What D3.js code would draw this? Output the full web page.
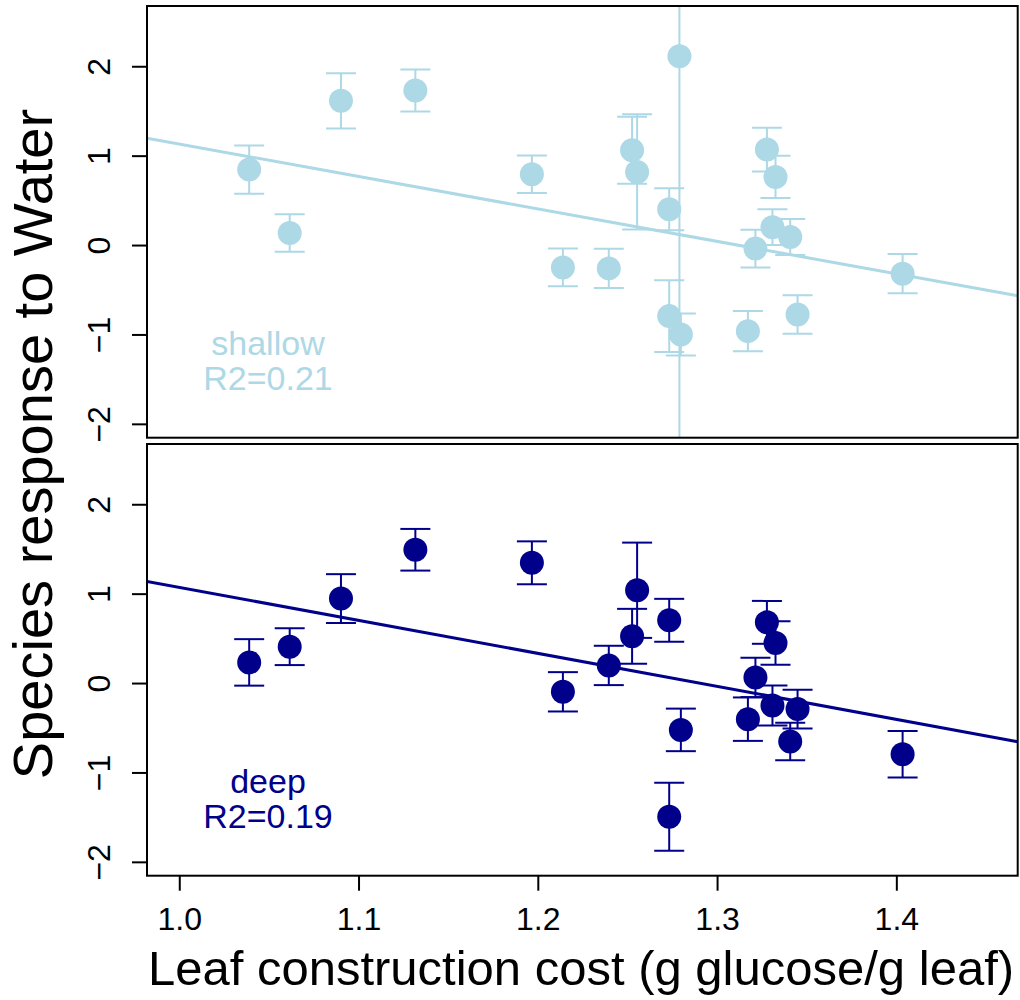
<!DOCTYPE html>
<html>
<head>
<meta charset="utf-8">
<script src="https://cdn.jsdelivr.net/npm/d3@7"></script>
<style>
    body { margin: 0; background: #fff; }
    svg { font-family: "Liberation Sans", Arial, sans-serif; }
</style>
</head>
<body>
<svg width="1020" height="1000"></svg>
<script>
// species means and standard errors
var shallowX  = [1.039, 1.0616, 1.0902, 1.1317, 1.1967, 1.214, 1.2396, 1.2526, 1.2554, 1.2733, 1.2733,
                 1.279, 1.2798, 1.3172, 1.3214, 1.3278, 1.3309, 1.3326, 1.3408, 1.3449, 1.4035];
var shallowY  = [0.844, 0.134, 1.613, 1.729, 0.792, -0.25, -0.261, 1.06, 0.818, 0.40, -0.795,
                 2.113, -1.0, -0.963, -0.04, 1.068, 0.20, 0.762, 0.09, -0.776, -0.32];
var shallowSE = [0.27, 0.21, 0.31, 0.235, 0.21, 0.21, 0.22, 0.375, 0.645, 0.235, 0.40,
                 6.0, 0.235, 0.224, 0.21, 0.245, 0.20, 0.237, 0.20, 0.215, 0.22];

var deepX  = [1.039, 1.0616, 1.0902, 1.1317, 1.1967, 1.214, 1.2396, 1.2526, 1.2554, 1.2733, 1.2733,
              1.2798, 1.3172, 1.3214, 1.3278, 1.3309, 1.3326, 1.3408, 1.3449, 1.4035];
var deepY  = [0.231, 0.407, 0.945, 1.491, 1.345, -0.098, 0.197, 0.523, 1.038, 0.702, -1.496,
              -0.524, -0.404, 0.063, 0.679, -0.251, 0.448, -0.654, -0.291, -0.796];
var deepSE = [0.26, 0.206, 0.273, 0.233, 0.24, 0.22, 0.22, 0.307, 0.533, 0.24, 0.38,
              0.238, 0.243, 0.22, 0.24, 0.224, 0.243, 0.21, 0.217, 0.26];

// regression lines: [intercept, slope]
var shallowFit = [4.76, -3.63];
var deepFit    = [4.76, -3.69];

var xTicks = [1.0, 1.1, 1.2, 1.3, 1.4];
var yTicks = [-2, -1, 0, 1, 2];

var svg = d3.select("svg");
var left = 147, right = 1017.7;

var x = d3.scaleLinear().domain([0.982, 1.4677]).range([left, right]);

function panel(id, top, bottom, xs, ys, se, fit, color, label, r2) {
    var y = d3.scaleLinear().domain([-2.155, 2.674]).range([bottom, top]);
    var g = svg.append("g").attr("class", "panel");

    svg.append("clipPath").attr("id", id)
      .append("rect")
        .attr("x", left).attr("y", top)
        .attr("width", right - left).attr("height", bottom - top);

    var plot = g.append("g").attr("clip-path", "url(#" + id + ")");

    var pts = xs.map(function(d, i) { return {x: d, y: ys[i], se: se[i]}; });

    // fitted line across the whole panel (abline)
    plot.append("line")
        .attr("x1", x(0.982)).attr("y1", y(fit[0] + fit[1] * 0.982))
        .attr("x2", x(1.4677)).attr("y2", y(fit[0] + fit[1] * 1.4677))
        .attr("stroke", color).attr("stroke-width", 3);

    var bar = plot.selectAll(".err")
        .data(pts)
      .enter().append("g")
        .attr("class", "err")
        .attr("stroke", color)
        .attr("stroke-width", 2);

    bar.append("line")
        .attr("x1", function(d) { return x(d.x); })
        .attr("x2", function(d) { return x(d.x); })
        .attr("y1", function(d) { return y(d.y + d.se); })
        .attr("y2", function(d) { return y(d.y - d.se); });

    bar.append("line")
        .attr("x1", function(d) { return x(d.x) - 15; })
        .attr("x2", function(d) { return x(d.x) + 15; })
        .attr("y1", function(d) { return y(d.y + d.se); })
        .attr("y2", function(d) { return y(d.y + d.se); });

    bar.append("line")
        .attr("x1", function(d) { return x(d.x) - 15; })
        .attr("x2", function(d) { return x(d.x) + 15; })
        .attr("y1", function(d) { return y(d.y - d.se); })
        .attr("y2", function(d) { return y(d.y - d.se); });

    plot.selectAll("circle")
        .data(pts)
      .enter().append("circle")
        .attr("cx", function(d) { return x(d.x); })
        .attr("cy", function(d) { return y(d.y); })
        .attr("r", 12)
        .attr("fill", color);

    // y axis, labels parallel to the axis like R's default
    var ax = g.append("g")
        .attr("transform", "translate(" + left + ",0)")
        .call(d3.axisLeft(y).tickValues(yTicks).tickSize(15).tickFormat(d3.format("d")));
    ax.select(".domain").remove();
    ax.selectAll("line").attr("stroke", "#000").attr("stroke-width", 2);
    ax.selectAll("text")
        .attr("x", null).attr("dy", null)
        .attr("transform", "translate(-37,0) rotate(-90)")
        .attr("text-anchor", "middle")
        .attr("fill", "#000")
        .style("font-size", "32px")
        .style("font-family", null)
        .text(function(d) { return d < 0 ? "\u2212" + Math.abs(d) : d; });

    g.append("text")
        .attr("x", 268).attr("y", bottom - 83)
        .attr("text-anchor", "middle")
        .attr("fill", color)
        .style("font-size", "34px")
        .text(label);
    g.append("text")
        .attr("x", 268).attr("y", bottom - 48)
        .attr("text-anchor", "middle")
        .attr("fill", color)
        .style("font-size", "34px")
        .text(r2);

    g.append("rect")
        .attr("x", left).attr("y", top)
        .attr("width", right - left).attr("height", bottom - top)
        .attr("fill", "none").attr("stroke", "#000").attr("stroke-width", 2);

    return y;
}

panel("clipTop", 6, 437.7, shallowX, shallowY, shallowSE, shallowFit, "#ADD8E6", "shallow", "R2=0.21");
panel("clipBot", 444, 875.7, deepX, deepY, deepSE, deepFit, "#00008B", "deep", "R2=0.19");

// shared x axis under the bottom panel
var xa = svg.append("g")
    .attr("transform", "translate(0,875.7)")
    .call(d3.axisBottom(x).tickValues(xTicks).tickSize(15).tickFormat(d3.format(".1f")));
xa.select(".domain").remove();
xa.selectAll("line").attr("stroke", "#000").attr("stroke-width", 2);
xa.selectAll("text")
    .attr("y", 54).attr("dy", null)
    .attr("fill", "#000")
    .style("font-size", "32px")
    .style("font-family", null);

svg.append("text")
    .attr("x", 581).attr("y", 985)
    .attr("text-anchor", "middle")
    .style("font-size", "49px")
    .text("Leaf construction cost (g glucose/g leaf)");

svg.append("text")
    .attr("transform", "translate(52,444) rotate(-90)")
    .attr("text-anchor", "middle")
    .style("font-size", "56px")
    .text("Species response to Water");
</script>
</body>
</html>
